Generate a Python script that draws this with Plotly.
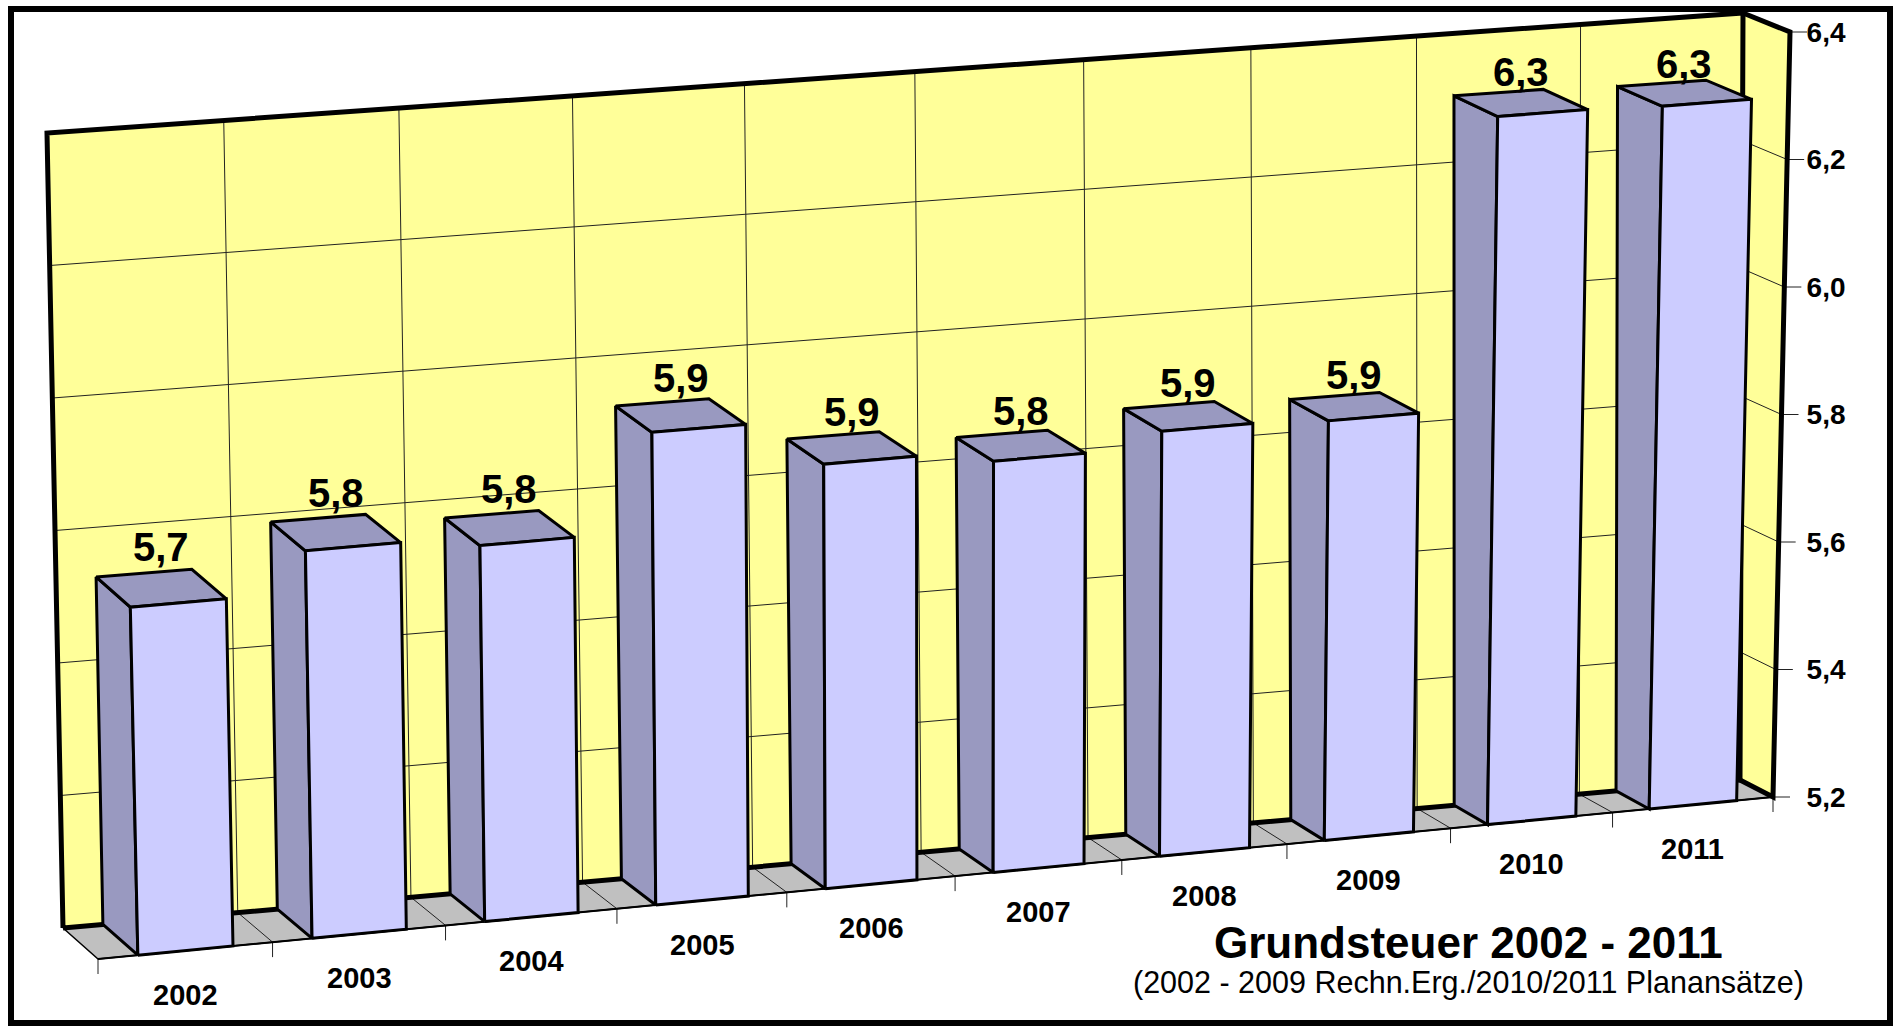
import plotly.graph_objects as go

# ---------------- data ----------------
years = ["2002", "2003", "2004", "2005", "2006", "2007", "2008", "2009", "2010", "2011"]
values = [5.725, 5.787, 5.772, 5.922, 5.851, 5.833, 5.857, 5.851, 6.303, 6.299]
axis_ticks = [5.2, 5.4, 5.6, 5.8, 6.0, 6.2, 6.4]
title_text = "Grundsteuer 2002 - 2011"
subtitle_text = "(2002 - 2009 Rechn.Erg./2010/2011 Planansätze)"

# ---------------- view geometry (3D box as seen on screen, px) ----------------
FIG_W, FIG_H = 1896, 1026
VMIN, VMAX = axis_ticks[0], axis_ticks[-1]
N = len(years)
BACK = {"lb": (63, 928), "rb": (1740, 780), "lt": (47, 133), "rt": (1743, 13)}
FRONT = {"lb": (98, 959), "rb": (1773, 797), "lt": (80, 163), "rt": (1790, 32)}
FORESHORTEN = 0.04678
BAR_WIDTH = 0.545

PX_PER_CAT = (FRONT["rb"][0] - FRONT["lb"][0]) / N
PX_PER_VAL = (FRONT["rb"][1] - FRONT["rt"][1]) / (VMAX - VMIN)

YELLOW = "#FFFF99"
FLOOR = "#C0C0C0"
BAR_FRONT = "#CCCCFF"
BAR_SIDE = "#9999C0"
FONT = "Liberation Sans, Arial, sans-serif"


def px_to_data(px, py):
    return ((px - FRONT["lb"][0]) / PX_PER_CAT - 0.5,
            VMIN + (FRONT["rb"][1] - py) / PX_PER_VAL)


def plane(P, g, w):
    xb = P["lb"][0] + g * (P["rb"][0] - P["lb"][0])
    yb = P["lb"][1] + g * (P["rb"][1] - P["lb"][1])
    xt = P["lt"][0] + g * (P["rt"][0] - P["lt"][0])
    yt = P["lt"][1] + g * (P["rt"][1] - P["lt"][1])
    return xb + w * (xt - xb), yb + w * (yt - yb)


def proj_px(c, v, d):
    """c: category coordinate, v: value, d: depth (0 back, 1 front) -> screen px"""
    u = (c + 0.5) / N
    g = (1 + FORESHORTEN) * u - FORESHORTEN * u * u
    w = (v - VMIN) / (VMAX - VMIN)
    bx, by = plane(BACK, g, w)
    fx, fy = plane(FRONT, g, w)
    return bx + d * (fx - bx), by + d * (fy - by)


def proj(c, v, d):
    return px_to_data(*proj_px(c, v, d))


def polys(list_of_pts, close=True):
    xs, ys = [], []
    for pts in list_of_pts:
        p = list(pts) + ([pts[0]] if close else [])
        for (x, y) in p:
            xs.append(x)
            ys.append(y)
        xs.append(None)
        ys.append(None)
    return xs, ys


fig = go.Figure()


def add_fill(pts_list, fill, lw, lc="black"):
    xs, ys = polys(pts_list)
    fig.add_trace(go.Scatter(x=xs, y=ys, mode="lines", fill="toself", fillcolor=fill,
                             line=dict(color=lc, width=lw), hoverinfo="skip", showlegend=False))


def add_lines(seg_list, lw, lc="black"):
    xs, ys = polys(seg_list, close=False)
    fig.add_trace(go.Scatter(x=xs, y=ys, mode="lines", line=dict(color=lc, width=lw),
                             hoverinfo="skip", showlegend=False))


L, R = -0.5, N - 0.5
# walls
back_wall = [proj(L, VMIN, 0), proj(R, VMIN, 0), proj(R, VMAX, 0), proj(L, VMAX, 0)]
side_wall = [proj(R, VMIN, 0), proj(R, VMIN, 1), proj(R, VMAX, 1), proj(R, VMAX, 0)]
floor = [proj(L, VMIN, 0), proj(R, VMIN, 0), proj(R, VMIN, 1), proj(L, VMIN, 1)]
add_fill([back_wall, side_wall], YELLOW, 0.5, YELLOW)
add_fill([floor], FLOOR, 1.5)

# gridlines
grid = []
for v in axis_ticks[1:-1]:
    grid.append([proj(L, v, 0), proj(R, v, 0), proj(R, v, 1)])
for k in range(1, N):
    c = k - 0.5
    grid.append([proj(c, VMIN, 0), proj(c, VMAX, 0)])
    grid.append([proj(c, VMIN, 0), proj(c, VMIN, 1)])
add_lines(grid, 1, "#222222")

# category ticks below the front floor edge
tick_len = 15 / PX_PER_VAL
cat_ticks = []
for k in range(N + 1):
    x0, y0 = proj(k - 0.5, VMIN, 1)
    cat_ticks.append([(x0, y0), (x0, y0 - tick_len)])
# value-axis ticks along the front edge of the side wall
vt_len = 17 / PX_PER_CAT
for v in axis_ticks:
    x0, y0 = proj(R, v, 1)
    cat_ticks.append([(x0, y0), (x0 + vt_len, y0)])
add_lines(cat_ticks, 1, "#222222")

# thick frame edges
add_lines([back_wall + [back_wall[0]]], 5)
add_lines([[proj(R, VMAX, 0), proj(R, VMAX, 1), proj(R, VMIN, 1), proj(R, VMIN, 0)]], 5)
add_lines([[proj(L, VMIN, 1), proj(R, VMIN, 1)]], 2)

# bars
sides, tops, fronts = [], [], []
for i, v in enumerate(values):
    a, b = i - BAR_WIDTH / 2, i + BAR_WIDTH / 2
    sides.append([proj(a, VMIN, 0), proj(a, v, 0), proj(a, v, 1), proj(a, VMIN, 1)])
    tops.append([proj(a, v, 0), proj(b, v, 0), proj(b, v, 1), proj(a, v, 1)])
    fronts.append([proj(a, VMIN, 1), proj(a, v, 1), proj(b, v, 1), proj(b, VMIN, 1)])
add_fill(sides, BAR_SIDE, 3)
add_fill(tops, BAR_SIDE, 3)
add_fill(fronts, BAR_FRONT, 3)

annotations = []
for i, v in enumerate(values):
    x, y = proj(i, v, 0.5)
    txt = f"{round(v + 1e-9, 1):.1f}".replace(".", ",")
    annotations.append(dict(x=x, y=y, xref="x", yref="y", text=f"<b>{txt}</b>", showarrow=False,
                            xanchor="center", yanchor="middle", yshift=41 - 1.3 * i,
                            font=dict(family=FONT, size=40, color="black")))
    x, y = proj(i, VMIN, 1)
    annotations.append(dict(x=x, y=y, xref="x", yref="y", text=f"<b>{years[i]}</b>", showarrow=False,
                            xanchor="center", yanchor="middle", yshift=-44,
                            font=dict(family=FONT, size=29, color="black")))

annotations.append(dict(x=1468 / FIG_W, y=1 - 942 / FIG_H, xref="paper", yref="paper",
                        text=f"<b>{title_text}</b>", showarrow=False, xanchor="center", yanchor="middle",
                        font=dict(family=FONT, size=44, color="black")))
annotations.append(dict(x=1468 / FIG_W, y=1 - 982 / FIG_H, xref="paper", yref="paper",
                        text=subtitle_text, showarrow=False, xanchor="center", yanchor="middle",
                        font=dict(family=FONT, size=30.5, color="black")))

x_lo, _ = px_to_data(0, 0)
x_hi, _ = px_to_data(FIG_W, 0)
_, y_lo = px_to_data(0, FIG_H)
_, y_hi = px_to_data(0, 0)

fig.update_layout(
    width=FIG_W, height=FIG_H, autosize=False,
    margin=dict(l=0, r=0, t=0, b=0, pad=0),
    paper_bgcolor="white", plot_bgcolor="white",
    showlegend=False, separators=",.",
    annotations=annotations,
    xaxis=dict(visible=False, range=[x_lo, x_hi], fixedrange=True),
    yaxis=dict(range=[y_lo, y_hi], side="right", anchor="free", position=1792 / FIG_W,
               tickvals=axis_ticks, tickformat=".1f", ticks="outside", ticklen=8,
               tickcolor="rgba(0,0,0,0)", showgrid=False, zeroline=False, showline=False,
               tickfont=dict(family=FONT, size=28, color="black", weight="bold"), fixedrange=True),
    shapes=[dict(type="rect", xref="paper", yref="paper",
                 x0=11 / FIG_W, x1=1890 / FIG_W, y0=1 - 1023 / FIG_H, y1=1 - 9 / FIG_H,
                 line=dict(color="black", width=6), layer="below")],
)

fig.write_html("out.html", config={"displayModeBar": False},
               post_script="document.body.style.margin='0';document.body.style.overflow='hidden';")
